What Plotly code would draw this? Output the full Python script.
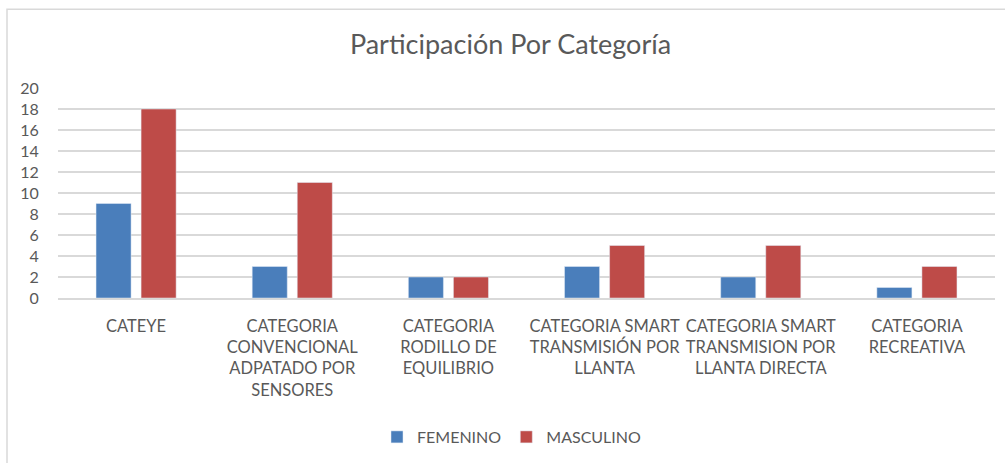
import plotly.graph_objects as go

categories = [
    "CATEYE",
    "CATEGORIA<br>CONVENCIONAL<br>ADPATADO POR<br>SENSORES",
    "CATEGORIA<br>RODILLO DE<br>EQUILIBRIO",
    "CATEGORIA SMART<br>TRANSMISIÓN POR<br>LLANTA",
    "CATEGORIA SMART<br>TRANSMISION POR<br>LLANTA DIRECTA",
    "CATEGORIA<br>RECREATIVA",
]
femenino = [9, 3, 2, 3, 2, 1]
masculino = [18, 11, 2, 5, 5, 3]

font_family = "Lato, 'Open Sans', sans-serif"
gray = "#595959"

fig = go.Figure()
fig.add_trace(go.Bar(name="FEMENINO", x=categories, y=femenino, marker_color="#4a7ebb"))
fig.add_trace(go.Bar(name="MASCULINO", x=categories, y=masculino, marker_color="#be4b48"))

W, H = 1005, 463
ml, mr, mt, mb = 58, 10, 88, 164
pw, ph = W - ml - mr, H - mt - mb

fig.update_layout(
    width=W, height=H,
    margin=dict(l=ml, r=mr, t=mt, b=mb),
    paper_bgcolor="white", plot_bgcolor="white",
    barmode="group", bargap=0.423, bargroupgap=0.222,
    title=dict(text="Participación Por Categoría", x=0.508, xref="container", xanchor="center",
               y=1 - 45 / H, yanchor="middle",
               font=dict(family=font_family, size=27, color=gray)),
    font=dict(family=font_family, color=gray),
    legend=dict(orientation="h", x=(512 - ml) / pw, xanchor="center", y=-(437 - 299) / ph, yanchor="middle",
                font=dict(size=16, color=gray), traceorder="normal", itemwidth=30),
    xaxis=dict(showgrid=False, showline=True, linecolor="#d9d9d9", linewidth=1.5,
               tickfont=dict(size=16.5, color=gray), ticks="outside", ticklen=12,
               tickcolor="rgba(0,0,0,0)", tickangle=0, automargin=False),
    yaxis=dict(range=[0, 20], dtick=2, showgrid=True, gridcolor="#d9d9d9", gridwidth=1.5,
               zeroline=False, showline=False, tickfont=dict(size=16, color=gray), ticks="outside",
               ticklen=15, tickcolor="rgba(0,0,0,0)", automargin=False),
    shapes=[dict(type="rect", xref="paper", yref="paper",
                 x0=(7 - ml) / pw, x1=(1010 - ml) / pw,
                 y0=-(470 - 299) / ph, y1=(299 - 9) / ph,
                 line=dict(color="#d9d9d9", width=1.5), fillcolor="rgba(0,0,0,0)", layer="below")],
)

fig.write_html("out.html", config={"displayModeBar": False})

# remove default page margin so the figure sits at the window's top-left corner
with open("out.html", "r", encoding="utf-8") as f:
    html = f.read()
html = html.replace("<head>", "<head><style>html,body{margin:0;padding:0;}</style>", 1)
with open("out.html", "w", encoding="utf-8") as f:
    f.write(html)
